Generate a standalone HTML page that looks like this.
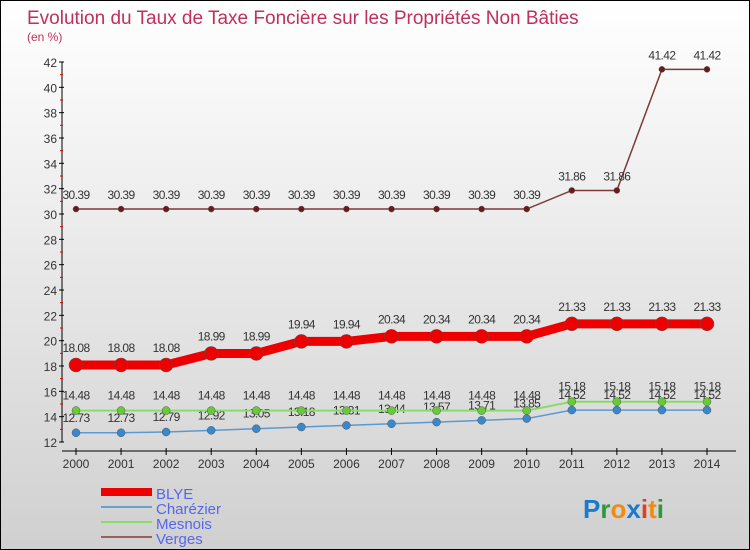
<!DOCTYPE html>
<html><head><meta charset="utf-8"><style>
html,body{margin:0;padding:0}
#wrap{position:relative;width:748px;height:548px;border:1px solid #000;background:linear-gradient(#ffffff,#d0d0d0);overflow:hidden;font-family:"Liberation Sans",sans-serif}
</style></head><body>
<div id="wrap">
<svg id="svg" width="748" height="548" xmlns="http://www.w3.org/2000/svg">
<text x="26" y="23" font-size="19" fill="#c0305a">Evolution du Taux de Taxe Foncière sur les Propriétés Non Bâties</text>
<text x="26" y="40" font-size="12" fill="#c0305a">(en %)</text>
<g id="axes"></g>
<g id="series"></g>
<g>
<line x1="100" y1="491" x2="151" y2="491" stroke="#e00" stroke-width="8"/>
<text x="155" y="498" font-size="15" fill="#5566ee">BLYE</text>
<line x1="100" y1="506" x2="151" y2="506" stroke="#6aa0cc" stroke-width="2"/>
<text x="155" y="513" font-size="15" fill="#5566ee">Charézier</text>
<line x1="100" y1="521" x2="151" y2="521" stroke="#88dd66" stroke-width="2"/>
<text x="155" y="528" font-size="15" fill="#5566ee">Mesnois</text>
<line x1="100" y1="536" x2="151" y2="536" stroke="#9a6060" stroke-width="2"/>
<text x="155" y="543" font-size="15" fill="#5566ee">Verges</text>
</g>
<text x="582" y="517" font-size="26" font-weight="bold"><tspan fill="#1a7acc">P</tspan><tspan fill="#2a9a3a">r</tspan><tspan fill="#f08a10">o</tspan><tspan fill="#1a7acc">x</tspan><tspan fill="#e04020">i</tspan><tspan fill="#f08a10">t</tspan><tspan fill="#2a9a3a">i</tspan></text>
</svg>
</div>
<script>
const years=[2000,2001,2002,2003,2004,2005,2006,2007,2008,2009,2010,2011,2012,2013,2014];
const yTicks=[12,14,16,18,20,22,24,26,28,30,32,34,36,38,40,42];
const blye=[18.08,18.08,18.08,18.99,18.99,19.94,19.94,20.34,20.34,20.34,20.34,21.33,21.33,21.33,21.33];
const charezier=[12.73,12.73,12.79,12.92,13.05,13.18,13.31,13.44,13.57,13.71,13.85,14.52,14.52,14.52,14.52];
const mesnois=[14.48,14.48,14.48,14.48,14.48,14.48,14.48,14.48,14.48,14.48,14.48,15.18,15.18,15.18,15.18];
const verges=[30.39,30.39,30.39,30.39,30.39,30.39,30.39,30.39,30.39,30.39,30.39,31.86,31.86,41.42,41.42];
const NS="http://www.w3.org/2000/svg";
const X=i=>75+i*(631/14);
const Y=v=>441-(v-12)*(380/30);
function mk(t,a,p){const e=document.createElementNS(NS,t);for(const k in a)e.setAttribute(k,a[k]);p.appendChild(e);return e;}
const ax=document.getElementById('axes');
const yl=mk('line',{x1:61,y1:Y(42),x2:61,y2:Y(12),stroke:'#000','stroke-width':1},ax);


yTicks.forEach(v=>{
 mk('line',{x1:58,y1:Y(v),x2:63,y2:Y(v),stroke:'#000'},ax);
 if(v<42) mk('line',{x1:59,y1:Y(v+1),x2:62,y2:Y(v+1),stroke:'#e00'},ax);
 const t=mk('text',{x:56,y:Y(v)+5,'font-size':12,fill:'#333','text-anchor':'end'},ax);t.textContent=v;
 
 
});
const xl=mk('line',{x1:61,y1:450,x2:735,y2:450,stroke:'#000'},ax);


years.forEach((y,i)=>{
 mk('line',{x1:X(i),y1:447,x2:X(i),y2:454,stroke:'#000'},ax);
 const t=mk('text',{x:X(i),y:467,'font-size':12,fill:'#333','text-anchor':'middle'},ax);t.textContent=y;
 
 
});
const sg=document.getElementById('series');
function series(name,data,color,w,r,dot,labelDy){
 const g=mk('g',{},sg);
 
 
 const pl=mk('polyline',{points:data.map((v,i)=>X(i)+','+Y(v)).join(' '),fill:'none',stroke:color,'stroke-width':w},g);
 
 
 data.forEach((v,i)=>{
  const c=mk('circle',{cx:X(i),cy:Y(v),r:r,fill:dot,stroke:'#555','stroke-width':0.5},g);
  
  
  const t=mk('text',{x:X(i),y:Y(v)+labelDy,'font-size':12,fill:'#333','text-anchor':'middle','letter-spacing':'-0.6'},g);
  t.textContent=v.toFixed(2);
  
  
 });
}
series('verges',verges,'#7a3a3a',1.5,3,'#6a1a1a',-10);
series('charezier',charezier,'#5a9ad0',1.5,4,'#3a88cc',-11);
series('mesnois',mesnois,'#88dd66',2,4,'#66cc33',-11);
series('blye',blye,'#ee0000',9,7,'#ee0000',-13);
</script>
</body></html>
